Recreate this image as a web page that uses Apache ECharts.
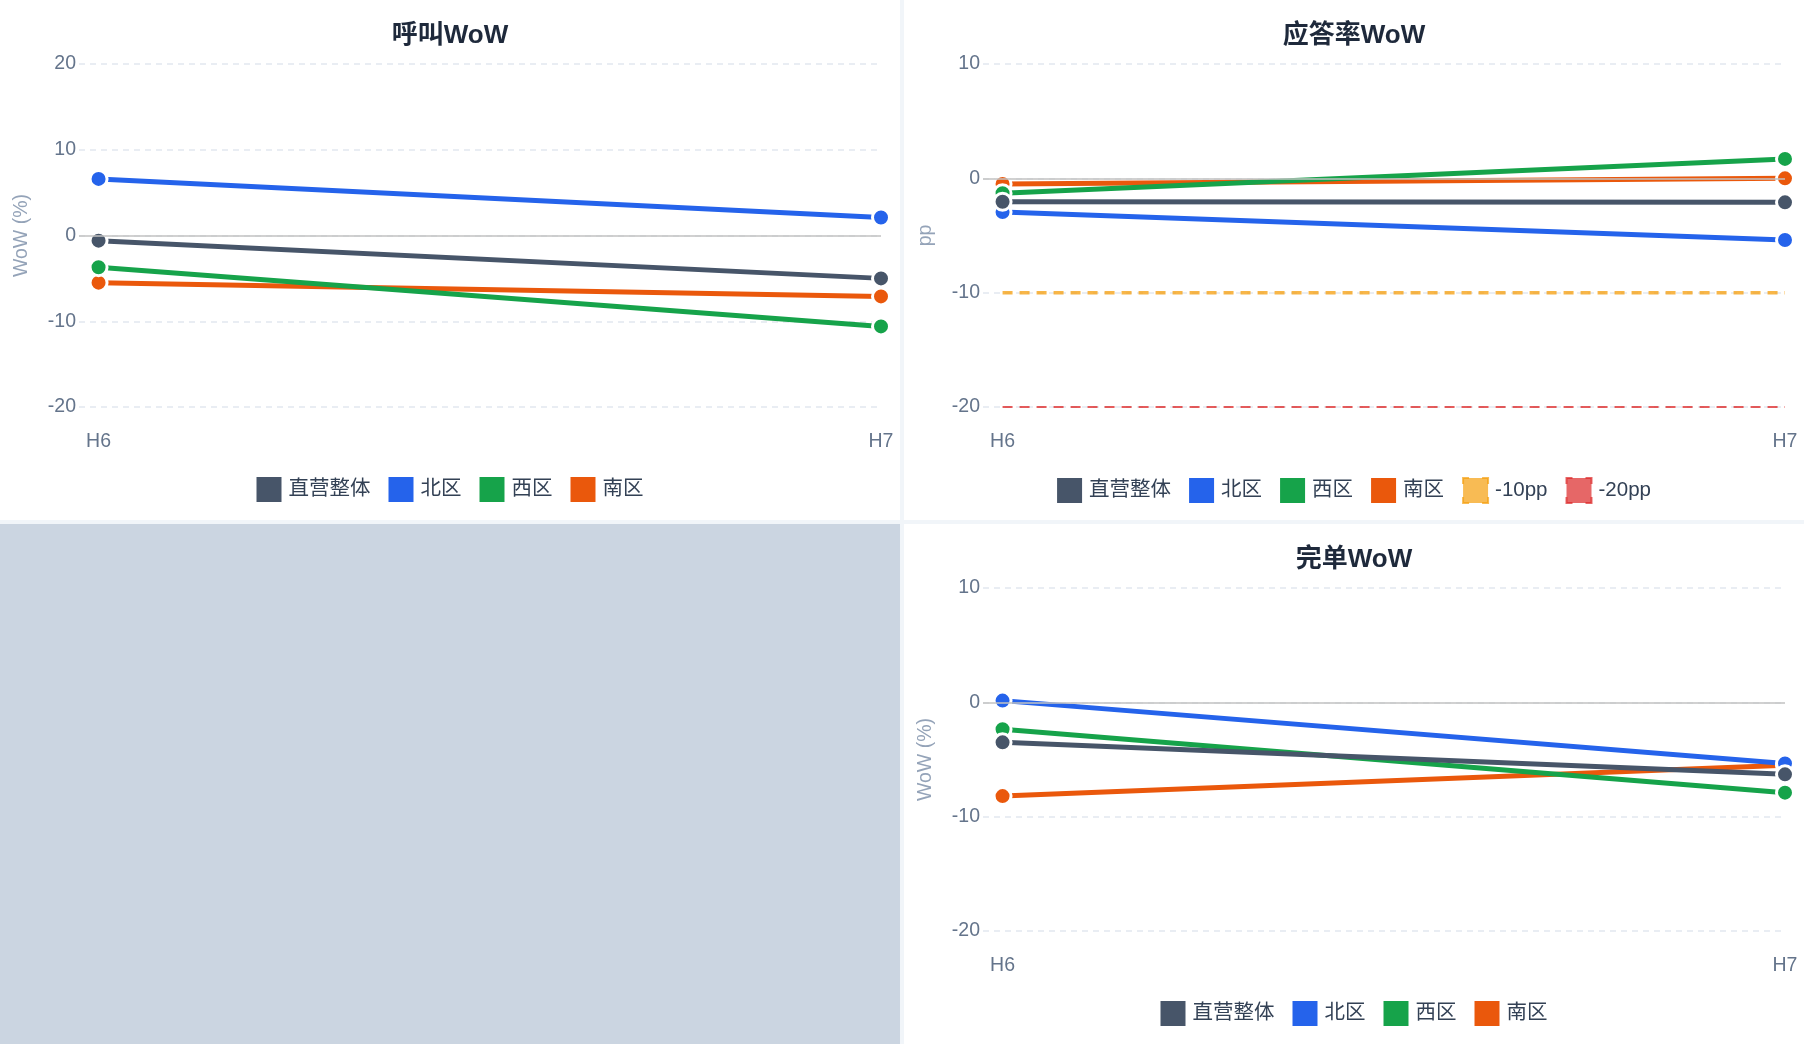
<!DOCTYPE html>
<html>
<head>
<meta charset="utf-8">
<title>WoW</title>
<script src="https://cdn.jsdelivr.net/npm/echarts@6/dist/echarts.min.js"></script>
<style>
	body{margin:0;background:#f1f5f9;}
	.wrap{display:grid;grid-template-columns:900px 900px;grid-template-rows:520px 520px;gap:4px;width:1804px;height:1044px;}
	.cell{background:#fff;}
	.empty{background:#cbd5e1;}
</style>
</head>
<body>
<div class="wrap">
	<div class="cell" id="c_call"></div>
	<div class="cell" id="c_answer"></div>
	<div class="empty"></div>
	<div class="cell" id="c_done"></div>
</div>
<script type="text/javascript">
    var weeks = ['H6', 'H7'];
    var regions = ['直营整体', '北区', '西区', '南区'];
    var regionColors = ['#475569', '#2563eb', '#16a34a', '#ea580c'];

    // 呼叫WoW (%)  顺序同 regions
    var callTotal = [-0.6, -5.0];
    var callNorth = [6.6, 2.1];
    var callWest = [-3.7, -10.6];
    var callSouth = [-5.5, -7.1];

    // 应答率WoW (pp)
    var answerTotal = [-2.05, -2.1];
    var answerNorth = [-2.95, -5.4];
    var answerWest = [-1.3, 1.7];
    var answerSouth = [-0.5, 0.0];

    // 完单WoW (%)
    var doneTotal = [-3.5, -6.3];
    var doneNorth = [0.15, -5.35];
    var doneWest = [-2.35, -7.9];
    var doneSouth = [-8.2, -5.5];

    // 应答率参考线
    var ppNames = ['-10pp', '-20pp'];
    var ppValues = [-10, -20];
    var ppColors = ['#f59e0b', '#dc2626'];
    var ppWidths = [3.5, 2];

    var FONT = "'Liberation Sans','Noto Sans CJK SC',sans-serif";

    function toPoints(vals) {
        return vals.map(function (v, i) { return [i, v]; });
    }

    function buildOption(title, yName, yMin, yMax, seriesVals, withPP) {
        var series = [];
        // 后画的在上面：南区 -> 直营整体
        for (var i = regions.length - 1; i >= 0; i--) {
            var s = {
                name: regions[i],
                type: 'line',
                data: toPoints(seriesVals[i]),
                symbol: 'circle',
                symbolSize: 17,
                lineStyle: {width: 5, color: regionColors[i]},
                itemStyle: {color: regionColors[i], borderColor: '#fff', borderWidth: 3},
                emphasis: {disabled: true},
                z: 3
            };
            if (i === regions.length - 1) {
                s.markLine = {
                    silent: true,
                    symbol: 'none',
                    label: {show: false},
                    lineStyle: {color: '#c2c2c2', width: 1.5, type: 'solid'},
                    data: [{yAxis: 0}]
                };
            }
            series.push(s);
        }
        var legendData = regions.slice();
        if (withPP) {
            for (var k = 0; k < ppNames.length; k++) {
                series.push({
                    name: ppNames[k],
                    type: 'line',
                    data: toPoints([ppValues[k], ppValues[k]]),
                    symbol: 'none',
                    lineStyle: {color: ppColors[k], width: ppWidths[k], type: [10, 7], opacity: 0.75},
                    itemStyle: {color: ppColors[k]},
                    emphasis: {disabled: true},
                    z: 2
                });
                legendData.push({
                    name: ppNames[k],
                    itemStyle: {
                        color: ppColors[k], opacity: 0.7,
                        borderColor: ppColors[k], borderWidth: 2,
                        borderType: [12, 13], borderDashOffset: 6
                    }
                });
            }
        }
        return {
            animation: false,
            textStyle: {fontFamily: FONT},
            title: {
                text: title,
                left: 'center',
                top: 18,
                textStyle: {fontSize: 26, fontWeight: 'bold', color: '#1e293b', fontFamily: FONT}
            },
            legend: {
                data: legendData,
                left: 'center',
                top: 477,
                padding: 0,
                icon: 'rect',
                itemWidth: 25,
                itemHeight: 25,
                itemGap: 18,
                itemStyle: {borderWidth: 0},
                textStyle: {fontSize: 20.5, color: '#334155', fontFamily: FONT, padding: [0, 0, 0, 2]}
            },
            grid: {left: 79, right: 19, top: 64, bottom: 113},
            xAxis: {
                type: 'value',
                min: -0.025,
                max: 1,
                axisLine: {show: false},
                axisTick: {show: false},
                splitLine: {show: false},
                axisLabel: {
                    customValues: [0, 1],
                    formatter: function (v) { return weeks[Math.round(v)]; },
                    margin: 25,
                    fontSize: 19.5,
                    color: '#64748b',
                    fontFamily: FONT
                }
            },
            yAxis: {
                type: 'value',
                min: yMin,
                max: yMax,
                interval: 10,
                name: yName,
                nameLocation: 'middle',
                nameGap: 48,
                nameTextStyle: {fontSize: 19.5, color: '#94a3b8', fontFamily: FONT},
                axisLine: {show: false},
                axisTick: {show: false},
                axisLabel: {margin: 3, fontSize: 19.5, color: '#64748b', fontFamily: FONT},
                splitLine: {lineStyle: {color: '#e2e8f0', width: 1.5, type: [6, 5]}}
            },
            series: series
        };
    }

    var callChart = echarts.init(document.getElementById('c_call'));
    callChart.setOption(buildOption('呼叫WoW', 'WoW (%)', -20, 20,
        [callTotal, callNorth, callWest, callSouth], false));

    var answerChart = echarts.init(document.getElementById('c_answer'));
    answerChart.setOption(buildOption('应答率WoW', 'pp', -20, 10,
        [answerTotal, answerNorth, answerWest, answerSouth], true));

    var doneChart = echarts.init(document.getElementById('c_done'));
    doneChart.setOption(buildOption('完单WoW', 'WoW (%)', -20, 10,
        [doneTotal, doneNorth, doneWest, doneSouth], false));
</script>
</body>
</html>
